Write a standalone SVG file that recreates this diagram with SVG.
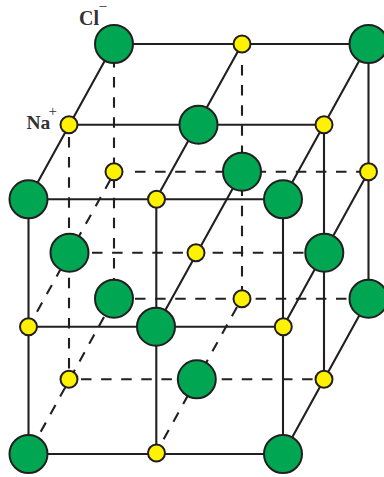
<svg xmlns="http://www.w3.org/2000/svg" width="384" height="477" viewBox="0 0 384 477">
<style>
.s{stroke:#231f20;stroke-width:2.1;fill:none}
.d{stroke:#231f20;stroke-width:2.1;fill:none;stroke-dasharray:10.500 9.600}
.cl{fill:#00a651;stroke:#231f20;stroke-width:2}
.na{fill:#fff200;stroke:#231f20;stroke-width:2}
.t{font-family:"Liberation Serif",serif;font-weight:bold;fill:#333132}
</style>
<g id="connectors">
<path class="d" d="M114 57V298M242 65V298M69 137V379"/>
<path class="d" d="M135 171.700H368M92 252.700H324M135 298.700H368M81 379.300H324"/>
<path class="d" d="M110.500 179.500L28.500 327M104 317L28.500 454M237 307L156 453"/>
<path class="s" d="M114 44H368.500M69 124.700H324M28.500 199.300H283M28.500 326.700H283M28.500 454H283"/>
<path class="s" d="M28.500 199V454M156.300 199V454M283 199V454M324 125V379M368.500 44V298"/>
<path class="s" d="M114 44L28.500 199M242 44L156 199M368.500 44L283 199M368.500 171.700L283 327M242 171.700L156 327M368.500 298.700L283 454"/>
</g>
<g id="cl1"><circle class="cl" cx="114" cy="44" r="19"/></g>
<g id="na1"><circle class="na" cx="242" cy="44" r="8.500"/></g>
<g id="cl2"><circle class="cl" cx="368.500" cy="44" r="19"/></g>
<g id="na2"><circle class="na" cx="69" cy="124.700" r="8.500"/></g>
<g id="cl3"><circle class="cl" cx="198.500" cy="124.700" r="19"/></g>
<g id="na3"><circle class="na" cx="324" cy="124.700" r="8.500"/></g>
<g id="cl4"><circle class="cl" cx="28.500" cy="199.300" r="19"/></g>
<g id="na4"><circle class="na" cx="156.500" cy="199.300" r="8.500"/></g>
<g id="cl5"><circle class="cl" cx="283" cy="199.300" r="19"/></g>
<g id="na5"><circle class="na" cx="114" cy="171.700" r="8.500"/></g>
<g id="cl6"><circle class="cl" cx="242" cy="171.700" r="19"/></g>
<g id="na6"><circle class="na" cx="368.500" cy="171.700" r="8.500"/></g>
<g id="cl7"><circle class="cl" cx="69.500" cy="252.700" r="19"/></g>
<g id="na7"><circle class="na" cx="196" cy="252.700" r="8.500"/></g>
<g id="cl8"><circle class="cl" cx="324.300" cy="252.700" r="19"/></g>
<g id="na8"><circle class="na" cx="28.500" cy="326.700" r="8.500"/></g>
<g id="cl9"><circle class="cl" cx="156" cy="326.700" r="19"/></g>
<g id="na9"><circle class="na" cx="283.300" cy="326.700" r="8.500"/></g>
<g id="cl10"><circle class="cl" cx="114" cy="298.700" r="19"/></g>
<g id="na10"><circle class="na" cx="242" cy="298.700" r="8.500"/></g>
<g id="cl11"><circle class="cl" cx="368.500" cy="298.700" r="19"/></g>
<g id="na11"><circle class="na" cx="69" cy="379.300" r="8.500"/></g>
<g id="cl12"><circle class="cl" cx="196.800" cy="379.300" r="19"/></g>
<g id="na12"><circle class="na" cx="324" cy="379.300" r="8.500"/></g>
<g id="cl13"><circle class="cl" cx="28.500" cy="454" r="19"/></g>
<g id="na13"><circle class="na" cx="156.500" cy="453" r="8.500"/></g>
<g id="cl14"><circle class="cl" cx="283" cy="454" r="19"/></g>
<g id="labels">
<text class="t" x="79" y="25" font-size="20">Cl</text>
<text class="t" x="99.500" y="9" font-size="10" textLength="7" lengthAdjust="spacingAndGlyphs">–</text>
<text class="t" x="26.500" y="129" font-size="19.500">Na</text>
<text class="t" x="48.500" y="115.500" font-size="15" style="font-weight:normal">+</text>
</g>
</svg>
